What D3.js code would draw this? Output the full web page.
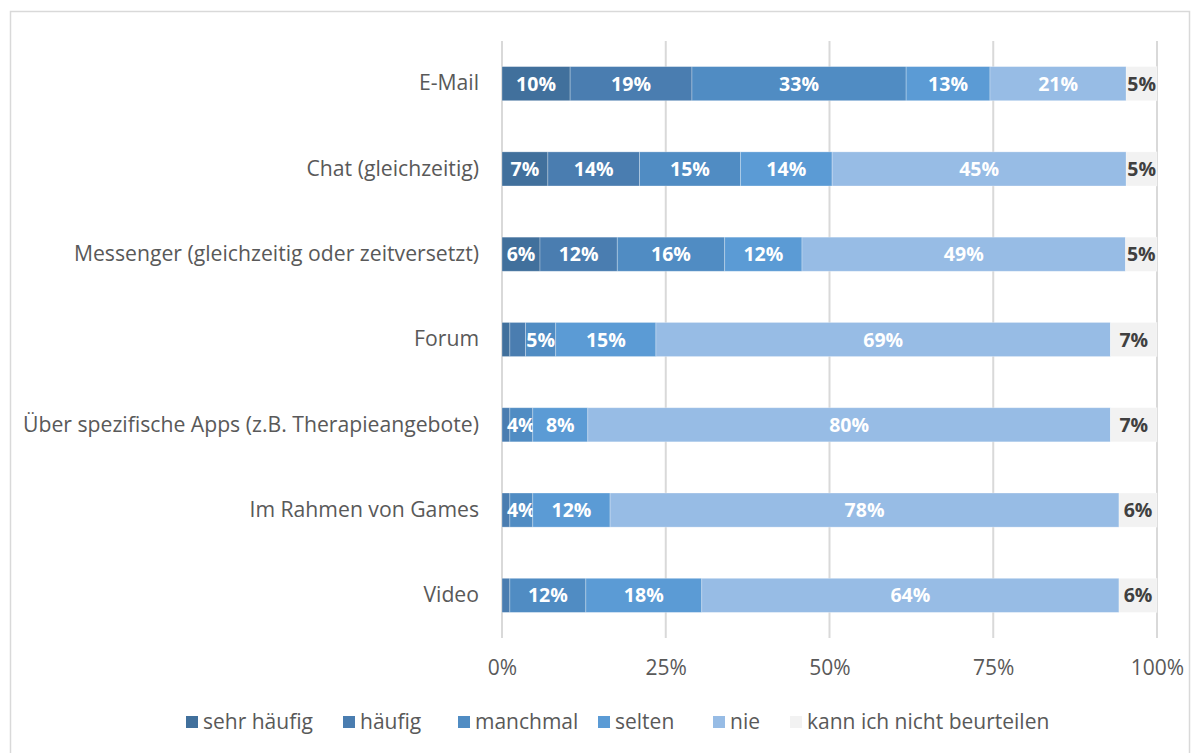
<!DOCTYPE html>
<html><head><meta charset="utf-8">
<script src="https://cdn.jsdelivr.net/npm/d3@7"></script>
<style>
html,body{margin:0;padding:0;background:#fff;}
svg{display:block;font-family:"Open Sans",Lato,sans-serif;}
</style></head>
<body><svg id="c" width="1200" height="753"></svg>
<script>
const categories = ["E-Mail","Chat (gleichzeitig)","Messenger (gleichzeitig oder zeitversetzt)","Forum","Über spezifische Apps (z.B. Therapieangebote)","Im Rahmen von Games","Video"];
const seriesNames = ["sehr häufig","häufig","manchmal","selten","nie","kann ich nicht beurteilen"];
const sehrHaeufig = [10.4, 7.0, 5.8, 1.2, 0, 0, 0];
const haeufig     = [18.6, 14.0, 11.8, 2.4, 1.2, 1.2, 1.2];
const manchmal    = [32.7, 15.4, 16.4, 4.6, 3.5, 3.5, 11.6];
const selten      = [12.8, 14.0, 11.8, 15.3, 8.4, 11.8, 17.7];
const nie         = [20.8, 44.9, 49.4, 69.4, 79.8, 77.7, 63.7];
const kannNicht   = [4.7, 4.7, 4.8, 7.1, 7.1, 5.8, 5.8];
const tickValues = [0, 25, 50, 75, 100];
const colors = ["#41709c","#4a7db0","#508cc3","#5b9bd5","#97bce5","#f2f2f2"];

const seriesValues = [sehrHaeufig, haeufig, manchmal, selten, nie, kannNicht];
const rows = categories.map((c,i)=>{const o={cat:c}; seriesNames.forEach((s,j)=>o[s]=seriesValues[j][i]); return o;});
const stack = d3.stack().keys(seriesNames)(rows);

const svg = d3.select("#c");
svg.append("rect").attr("x",10.5).attr("y",11.5).attr("width",1179).attr("height",760)
  .attr("fill","#fff").attr("stroke","#d9d9d9").attr("stroke-width",1.5);

const x = d3.scaleLinear().domain([0,100]).range([502,1157]);
const y = d3.scaleBand().domain(categories).range([41,638]).paddingInner(0.6).paddingOuter(0.3);

svg.append("g").selectAll("line").data(tickValues).join("line")
  .attr("x1",d=>x(d)).attr("x2",d=>x(d)).attr("y1",41).attr("y2",638)
  .attr("stroke","#d9d9d9").attr("stroke-width",2);

const xAxis = d3.axisBottom(x).tickValues(tickValues).tickFormat(d=>d+"%").tickSize(0).tickPadding(0);
const gx = svg.append("g").attr("transform","translate(0,660)").call(xAxis);
gx.select(".domain").remove();
gx.selectAll("text").attr("font-size",21).attr("fill","#595959").attr("font-family","Open Sans");

const yAxis = d3.axisLeft(y).tickSize(0).tickPadding(0);
const gy = svg.append("g").attr("transform","translate(479,0)").call(yAxis);
gy.select(".domain").remove();
gy.selectAll("text").attr("font-size",21.2).attr("fill","#595959").attr("font-family","Open Sans");

const layers = svg.append("g").selectAll("g").data(stack).join("g").attr("fill",(d,i)=>colors[i]);
layers.selectAll("rect").data(d=>d.map(p=>({p,key:d.key}))).join("rect")
  .attr("x",d=>x(d.p[0])).attr("width",d=>x(d.p[1])-x(d.p[0]))
  .attr("y",d=>y(d.p.data.cat)).attr("height",y.bandwidth())
  .attr("stroke","rgba(255,255,255,0.35)").attr("stroke-width",0.8);

layers.selectAll("text").data((d,i)=>d.map(p=>({p,key:d.key,i}))).join("text")
  .filter(d=>(d.p[1]-d.p[0])>=3)
  .attr("x",d=>(x(d.p[0])+x(d.p[1]))/2)
  .attr("y",d=>y(d.p.data.cat)+y.bandwidth()/2)
  .attr("dy","0.36em").attr("text-anchor","middle")
  .attr("font-size",19.5).attr("font-weight","bold")
  .attr("fill",d=>d.i===5?"#404040":"#ffffff")
  .text(d=>Math.round(d.p[1]-d.p[0])+"%");

const legX = [186,343,458,598,713,790];
const leg = svg.append("g").selectAll("g").data(seriesNames).join("g")
  .attr("transform",(d,i)=>`translate(${legX[i]},722)`);
leg.append("rect").attr("x",0).attr("y",-6).attr("width",12).attr("height",12).attr("fill",(d,i)=>colors[i]);
leg.append("text").attr("x",17).attr("y",0).attr("dy","0.35em").attr("font-size",21)
  .attr("fill","#595959").text(d=>d);
</script></body></html>
